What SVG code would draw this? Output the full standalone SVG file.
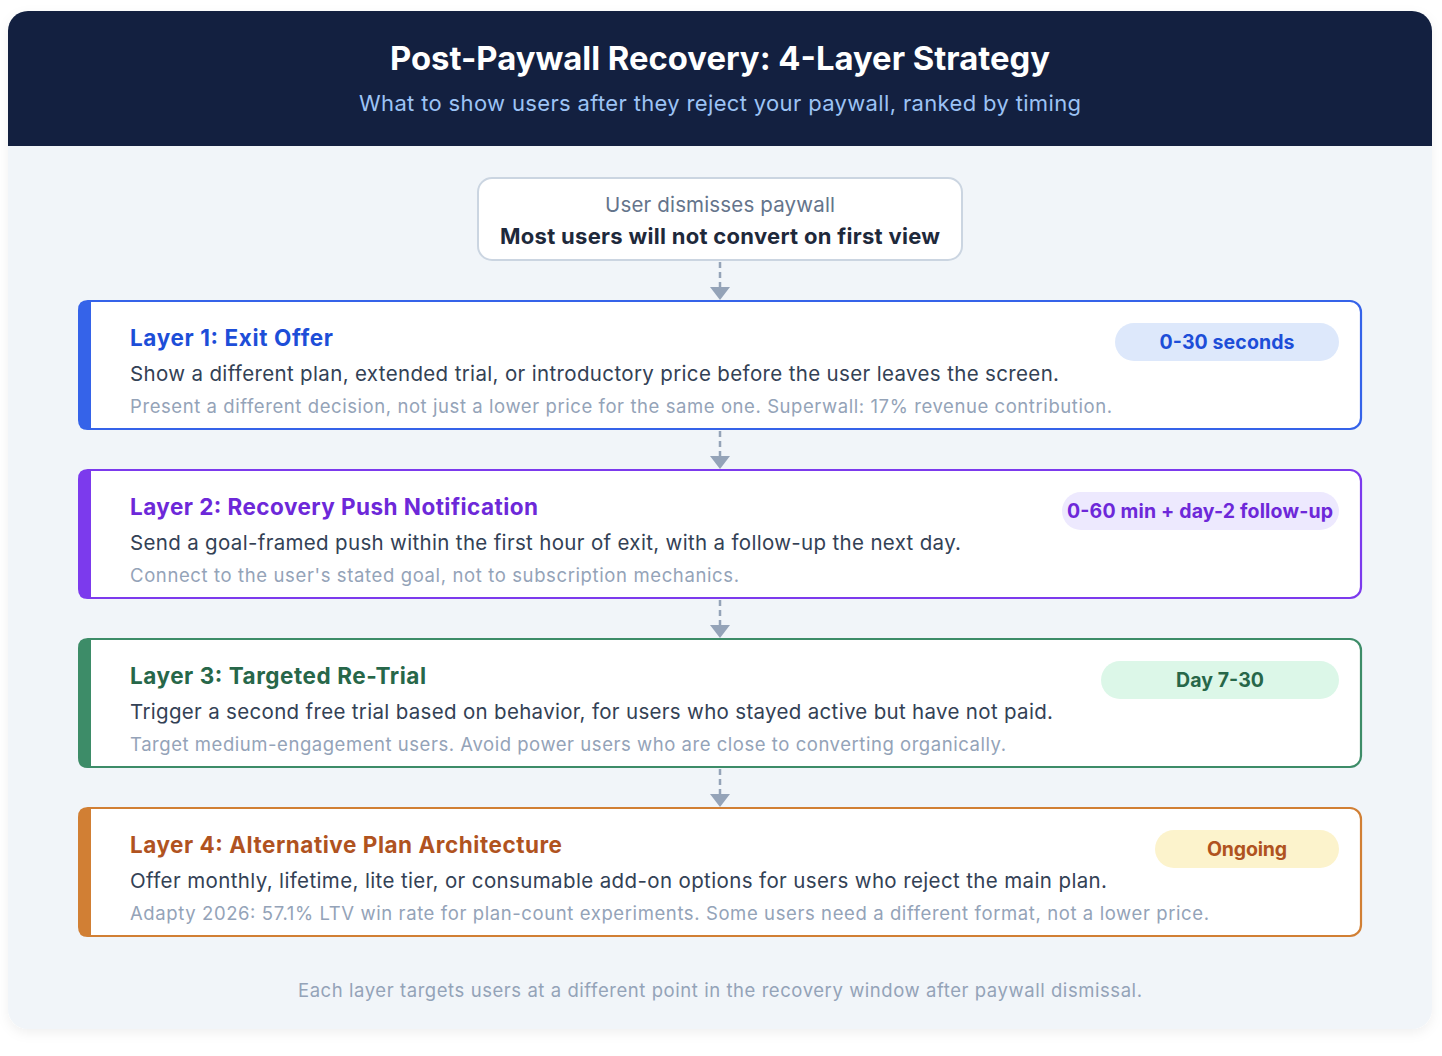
<svg xmlns="http://www.w3.org/2000/svg" width="1442" height="1056" viewBox="0 0 1442 1056">
<defs>
<style>
text{font-family:Inter,"Noto Sans","Liberation Sans",sans-serif}
.t{font-size:32.5px;font-weight:700;fill:#ffffff;text-anchor:middle}
.st{font-size:22px;fill:#9cc3f5;text-anchor:middle}
.card{fill:#ffffff;stroke-width:2.2}
.h{font-size:22.5px;font-weight:700}
.b{font-size:20.5px;fill:#334155}
.n{font-size:18.5px;fill:#94a3b8}
.p{font-size:19.5px;font-weight:700;text-anchor:middle}
.conn{stroke:#94a3b8;stroke-width:2.5;stroke-dasharray:6 4;fill:none}
.ah{fill:#94a3b8}
</style>
<filter id="sh" x="-5%" y="-5%" width="110%" height="112%">
<feDropShadow dx="0" dy="4" stdDeviation="6" flood-color="#000" flood-opacity="0.06"/>
</filter>
<clipPath id="cc"><rect x="8" y="11" width="1424" height="1018" rx="20"/></clipPath>
</defs>
<rect width="1442" height="1056" fill="#ffffff"/>
<g id="frame">
<rect x="8" y="11" width="1424" height="1018" rx="20" fill="#f1f5f9" filter="url(#sh)"/>
<g clip-path="url(#cc)"><rect x="8" y="11" width="1424" height="135" fill="#132040"/></g>
<text class="t" x="720" y="70" textLength="660" lengthAdjust="spacingAndGlyphs">Post-Paywall Recovery: 4-Layer Strategy</text>
<text class="st" x="720" y="111" textLength="722" lengthAdjust="spacing">What to show users after they reject your paywall, ranked by timing</text>
</g>
<g id="connectors">
<line class="conn" x1="720" y1="262" x2="720" y2="288"/>
<path class="ah" d="M710 287 L730 287 L720 300 Z"/>
<line class="conn" x1="720" y1="431" x2="720" y2="457"/>
<path class="ah" d="M710 456 L730 456 L720 469 Z"/>
<line class="conn" x1="720" y1="600" x2="720" y2="626"/>
<path class="ah" d="M710 625 L730 625 L720 638 Z"/>
<line class="conn" x1="720" y1="769" x2="720" y2="795"/>
<path class="ah" d="M710 794 L730 794 L720 807 Z"/>
</g>
<g id="start">
<rect x="478" y="178" width="484" height="82" rx="14" fill="#ffffff" stroke="#cbd5e1" stroke-width="2"/>
<text x="720" y="212" font-size="20.5" fill="#64748b" text-anchor="middle" textLength="230" lengthAdjust="spacing">User dismisses paywall</text>
<text x="720" y="244" font-size="22" font-weight="700" fill="#1e293b" text-anchor="middle" textLength="440" lengthAdjust="spacing">Most users will not convert on first view</text>
</g>
<g id="layer1">
<rect class="card" x="80" y="301" width="1281" height="128" rx="11" stroke="#3563e9"/>
<path d="M91 300 L88 300 Q78 300 78 310 L78 420 Q78 430 88 430 L91 430 Z" fill="#3563e9"/>
<text class="h" x="130" y="346" fill="#1d4ed8" textLength="203" lengthAdjust="spacing">Layer 1: Exit Offer</text>
<text class="b" x="130" y="381" textLength="929" lengthAdjust="spacing">Show a different plan, extended trial, or introductory price before the user leaves the screen.</text>
<text class="n" x="130" y="413" textLength="982" lengthAdjust="spacing">Present a different decision, not just a lower price for the same one. Superwall: 17% revenue contribution.</text>
<rect x="1115" y="323" width="224" height="38" rx="19" fill="#dde8fb"/>
<text class="p" x="1227" y="349" fill="#1d4ed8" textLength="135" lengthAdjust="spacing">0-30 seconds</text>
</g>
<g id="layer2">
<rect class="card" x="80" y="470" width="1281" height="128" rx="11" stroke="#7c3aed"/>
<path d="M91 469 L88 469 Q78 469 78 479 L78 589 Q78 599 88 599 L91 599 Z" fill="#7c3aed"/>
<text class="h" x="130" y="515" fill="#6d28d9" textLength="408" lengthAdjust="spacing">Layer 2: Recovery Push Notification</text>
<text class="b" x="130" y="550" textLength="831" lengthAdjust="spacing">Send a goal-framed push within the first hour of exit, with a follow-up the next day.</text>
<text class="n" x="130" y="582" textLength="609" lengthAdjust="spacing">Connect to the user's stated goal, not to subscription mechanics.</text>
<rect x="1062" y="492" width="277" height="38" rx="19" fill="#ede9fe"/>
<text class="p" x="1200" y="518" fill="#6d28d9" textLength="266" lengthAdjust="spacing">0-60 min + day-2 follow-up</text>
</g>
<g id="layer3">
<rect class="card" x="80" y="639" width="1281" height="128" rx="11" stroke="#3d8c68"/>
<path d="M91 638 L88 638 Q78 638 78 648 L78 758 Q78 768 88 768 L91 768 Z" fill="#3d8c68"/>
<text class="h" x="130" y="684" fill="#276749" textLength="296" lengthAdjust="spacing">Layer 3: Targeted Re-Trial</text>
<text class="b" x="130" y="719" textLength="923" lengthAdjust="spacing">Trigger a second free trial based on behavior, for users who stayed active but have not paid.</text>
<text class="n" x="130" y="751" textLength="876" lengthAdjust="spacing">Target medium-engagement users. Avoid power users who are close to converting organically.</text>
<rect x="1101" y="661" width="238" height="38" rx="19" fill="#dcf7e8"/>
<text class="p" x="1220" y="687" fill="#276749" textLength="88" lengthAdjust="spacing">Day 7-30</text>
</g>
<g id="layer4">
<rect class="card" x="80" y="808" width="1281" height="128" rx="11" stroke="#d17f34"/>
<path d="M91 807 L88 807 Q78 807 78 817 L78 927 Q78 937 88 937 L91 937 Z" fill="#d17f34"/>
<text class="h" x="130" y="853" fill="#b0531f" textLength="432" lengthAdjust="spacing">Layer 4: Alternative Plan Architecture</text>
<text class="b" x="130" y="888" textLength="977" lengthAdjust="spacing">Offer monthly, lifetime, lite tier, or consumable add-on options for users who reject the main plan.</text>
<text class="n" x="130" y="920" textLength="1079" lengthAdjust="spacing">Adapty 2026: 57.1% LTV win rate for plan-count experiments. Some users need a different format, not a lower price.</text>
<rect x="1155" y="830" width="184" height="38" rx="19" fill="#fcf3cc"/>
<text class="p" x="1247" y="856" fill="#b0531f" textLength="80" lengthAdjust="spacing">Ongoing</text>
</g>
<g id="footer">
<text x="720" y="997" font-size="18.5" fill="#94a3b8" text-anchor="middle" textLength="844" lengthAdjust="spacing">Each layer targets users at a different point in the recovery window after paywall dismissal.</text>
</g>
</svg>
